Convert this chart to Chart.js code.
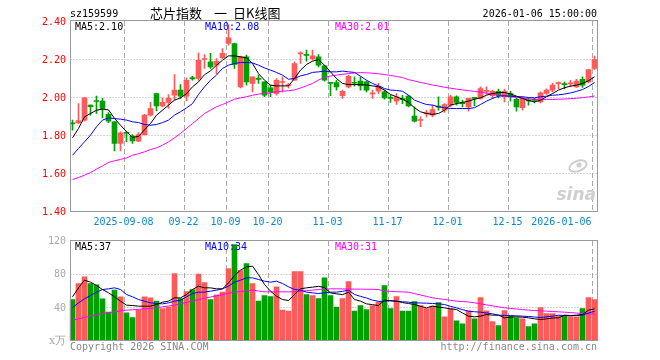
<!DOCTYPE html>
<html><head><meta charset="utf-8">
<script src="https://cdn.jsdelivr.net/npm/chart.js@4.4.1/dist/chart.umd.min.js"></script>
<style>
html,body{margin:0;padding:0;background:#fff;}
#wrap{position:relative;width:660px;height:360px;overflow:hidden;background:#fff;}
canvas{position:absolute;left:0;top:0;}
</style>
</head><body>
<div id="wrap"><canvas id="pc" width="660" height="360"></canvas><canvas id="vc" width="660" height="360"></canvas></div>
<script>
// ---------------- DATA ----------------
const dates = [
 '2025-08-26','2025-08-27','2025-08-28','2025-08-29',
 '2025-09-01','2025-09-02','2025-09-03','2025-09-04','2025-09-05',
 '2025-09-08','2025-09-09','2025-09-10','2025-09-11','2025-09-12',
 '2025-09-15','2025-09-16','2025-09-17','2025-09-18','2025-09-19',
 '2025-09-22','2025-09-23','2025-09-24','2025-09-25','2025-09-26',
 '2025-09-29','2025-09-30',
 '2025-10-09','2025-10-10',
 '2025-10-13','2025-10-14','2025-10-15','2025-10-16','2025-10-17',
 '2025-10-20','2025-10-21','2025-10-22','2025-10-23','2025-10-24',
 '2025-10-27','2025-10-28','2025-10-29','2025-10-30','2025-10-31',
 '2025-11-03','2025-11-04','2025-11-05','2025-11-06','2025-11-07',
 '2025-11-10','2025-11-11','2025-11-12','2025-11-13','2025-11-14',
 '2025-11-17','2025-11-18','2025-11-19','2025-11-20','2025-11-21',
 '2025-11-24','2025-11-25','2025-11-26','2025-11-27','2025-11-28',
 '2025-12-01','2025-12-02','2025-12-03','2025-12-04','2025-12-05',
 '2025-12-08','2025-12-09','2025-12-10','2025-12-11','2025-12-12',
 '2025-12-15','2025-12-16','2025-12-17','2025-12-18','2025-12-19',
 '2025-12-22','2025-12-23','2025-12-24','2025-12-25','2025-12-26',
 '2025-12-29','2025-12-30','2025-12-31',
 '2026-01-05','2026-01-06'
];
const opens = [1.865,1.868,1.881,1.960,1.982,1.981,1.912,1.872,1.758,1.815,
 1.797,1.770,1.805,1.907,2.021,1.956,1.974,2.012,2.039,2.007,
 2.105,2.100,2.200,2.188,2.170,2.209,2.284,2.284,2.056,2.214,
 2.074,2.098,2.082,2.051,2.021,2.079,2.063,2.091,2.230,2.225,
 2.205,2.214,2.167,2.075,2.079,2.009,2.056,2.079,2.086,2.082,
 2.019,2.033,2.030,1.996,1.981,1.991,2.007,1.902,1.879,1.914,
 1.907,1.952,1.933,1.960,2.004,1.969,1.951,1.996,1.995,2.032,
 2.009,2.033,2.004,2.021,1.991,1.946,1.984,1.988,1.977,2.021,
 2.039,2.073,2.069,2.072,2.056,2.095,2.082,2.153];
const highs = [1.881,1.968,2.000,1.962,2.007,1.995,1.921,1.875,1.819,1.823,
 1.805,1.816,1.912,1.974,2.023,1.998,2.016,2.121,2.068,2.104,
 2.112,2.235,2.226,2.232,2.205,2.258,2.381,2.286,2.218,2.223,
 2.109,2.118,2.082,2.065,2.100,2.109,2.074,2.188,2.240,2.249,
 2.249,2.226,2.170,2.076,2.091,2.039,2.118,2.109,2.109,2.086,
 2.039,2.074,2.039,2.012,2.021,2.012,2.012,1.951,1.898,1.933,
 1.960,2.004,1.968,2.012,2.009,1.986,1.995,1.997,2.056,2.056,
 2.039,2.044,2.044,2.033,1.995,2.004,2.000,1.995,2.030,2.046,
 2.074,2.082,2.082,2.091,2.095,2.109,2.147,2.218];
const lows = [1.828,1.862,1.876,1.907,1.916,1.893,1.868,1.719,1.719,1.767,
 1.758,1.767,1.802,1.902,1.930,1.951,1.942,1.986,1.995,1.982,
 2.091,2.091,2.153,2.153,2.126,2.205,2.275,2.153,2.051,2.065,
 2.030,2.074,2.004,2.004,2.012,2.030,2.050,2.091,2.179,2.191,
 2.196,2.161,2.086,2.009,2.039,1.995,2.051,2.060,2.039,2.030,
 1.995,2.021,1.991,1.974,1.963,1.968,1.951,1.872,1.846,1.898,
 1.898,1.933,1.921,1.951,1.960,1.951,1.928,1.956,1.991,2.016,
 1.995,1.998,1.977,1.981,1.928,1.933,1.960,1.972,1.972,2.016,
 2.030,2.047,2.047,2.056,2.053,2.053,2.077,2.147];
const closes = [1.861,1.878,1.998,1.952,1.979,1.942,1.875,1.758,1.814,1.812,
 1.772,1.805,1.907,1.942,1.956,1.974,1.995,2.039,2.007,2.091,
 2.098,2.196,2.202,2.161,2.191,2.232,2.314,2.174,2.214,2.082,
 2.109,2.095,2.012,2.030,2.091,2.082,2.065,2.179,2.232,2.222,
 2.219,2.170,2.091,2.074,2.056,2.033,2.112,2.075,2.061,2.039,
 2.021,2.060,1.998,1.995,2.004,1.989,1.956,1.875,1.881,1.916,
 1.937,1.949,1.963,2.004,1.974,1.968,1.995,1.995,2.047,2.033,
 2.033,2.009,2.033,2.004,1.951,1.995,1.982,1.985,2.025,2.039,
 2.065,2.074,2.068,2.074,2.086,2.065,2.147,2.200];
const ma5 = [1.788,1.837,1.898,1.916,1.933,1.939,1.935,1.890,1.854,1.820,
 1.790,1.795,1.830,1.863,1.907,1.933,1.960,1.986,1.998,2.020,
 2.056,2.082,2.120,2.140,2.170,2.196,2.219,2.219,2.214,2.209,
 2.179,2.126,2.091,2.065,2.061,2.061,2.061,2.100,2.144,2.174,
 2.191,2.200,2.170,2.135,2.100,2.074,2.068,2.068,2.068,2.066,
 2.061,2.056,2.039,2.016,2.004,1.991,1.974,1.946,1.925,1.916,
 1.911,1.916,1.933,1.960,1.968,1.974,1.981,1.991,1.998,2.012,
 2.021,2.026,2.026,2.019,2.007,1.995,1.984,1.977,1.986,2.004,
 2.021,2.039,2.051,2.060,2.065,2.074,2.088,2.109];
const ma10 = [1.696,1.732,1.767,1.802,1.846,1.881,1.893,1.889,1.886,1.881,
 1.872,1.868,1.858,1.854,1.858,1.868,1.881,1.907,1.925,1.945,
 1.968,2.016,2.056,2.091,2.118,2.153,2.170,2.179,2.184,2.184,
 2.182,2.170,2.156,2.144,2.132,2.118,2.096,2.100,2.114,2.121,
 2.132,2.135,2.139,2.135,2.135,2.139,2.135,2.132,2.112,2.091,
 2.074,2.061,2.047,2.039,2.037,2.033,2.012,1.986,1.974,1.963,
 1.960,1.951,1.946,1.942,1.942,1.942,1.942,1.946,1.963,1.981,
 1.995,2.007,2.009,2.007,2.004,2.004,2.000,1.998,2.004,2.007,
 2.012,2.014,2.018,2.024,2.032,2.042,2.058,2.079];
const ma30 = [1.568,1.579,1.591,1.605,1.623,1.640,1.658,1.667,1.674,1.682,
 1.696,1.704,1.714,1.726,1.735,1.749,1.767,1.788,1.811,1.837,
 1.863,1.889,1.916,1.933,1.951,1.963,1.977,1.991,1.998,2.004,
 2.012,2.018,2.021,2.025,2.030,2.033,2.036,2.040,2.050,2.062,
 2.074,2.092,2.105,2.113,2.118,2.122,2.126,2.129,2.131,2.130,
 2.128,2.125,2.121,2.116,2.111,2.105,2.094,2.087,2.079,2.073,
 2.066,2.060,2.054,2.049,2.044,2.040,2.036,2.032,2.028,2.023,
 2.018,2.013,2.008,2.004,2.000,1.996,1.993,1.991,1.990,1.990,
 1.990,1.991,1.992,1.994,1.996,1.999,2.003,2.008];
const volumes = [49.2,68.4,76.4,68.4,66.8,50.0,34.0,60.4,52.4,33.2,
 27.6,36.4,52.4,51.2,47.2,38.4,40.0,80.4,50.4,58.8,
 61.2,79.6,69.6,49.2,54.8,58.0,86.4,115.2,84.0,92.4,
 68.4,47.2,54.0,52.8,64.4,36.4,35.2,82.8,82.8,55.2,
 54.0,50.4,75.2,54.0,40.0,50.4,70.8,35.2,42.0,37.2,
 42.0,46.0,66.0,38.4,52.8,35.2,35.2,46.8,42.0,38.4,
 41.2,45.6,28.4,38.0,23.6,20.0,35.6,26.0,51.6,35.6,
 22.8,18.0,36.0,29.6,27.2,26.0,16.8,20.0,39.6,32.4,
 32.4,29.6,29.6,28.4,28.4,38.4,51.6,49.2];
const volMa5 = [52.4,63.2,72.4,70.0,66.0,61.2,57.2,52.4,47.2,42.4,
 42.0,41.2,41.2,41.2,43.2,46.0,47.2,51.2,51.2,55.2,
 61.2,65.2,63.2,63.2,62.0,62.0,69.2,78.0,84.4,88.4,
 89.2,79.2,67.2,59.2,53.2,49.2,48.0,55.2,62.0,63.2,
 64.0,65.0,63.5,57.2,56.0,55.0,58.0,49.2,47.2,44.0,
 43.0,42.0,48.4,47.5,47.2,45.5,44.4,43.2,41.0,39.2,
 41.2,40.0,39.2,38.0,37.2,33.0,29.2,28.4,29.2,31.2,
 30.4,30.4,27.2,28.0,28.4,28.0,27.2,26.0,25.2,26.0,
 27.0,27.2,30.4,30.0,30.4,31.2,36.4,38.0];
const volMa10 = [39.6,45.2,50.0,54.0,58.0,61.2,62.0,63.2,61.2,55.2,
 52.4,49.2,47.2,45.2,44.4,44.0,45.2,47.2,48.4,52.4,
 56.4,58.0,58.0,59.2,60.4,62.0,65.2,70.0,72.4,75.2,
 75.2,73.2,71.2,70.0,71.2,68.4,64.4,61.2,60.4,58.0,
 57.2,56.4,57.2,58.0,58.0,59.0,60.4,55.2,53.0,51.0,
 48.4,47.0,47.0,48.0,47.0,46.5,46.0,45.2,45.0,44.8,
 44.4,44.0,43.2,41.0,39.2,37.0,35.2,34.5,34.0,33.0,
 32.0,30.4,30.0,29.8,29.6,29.2,28.8,28.2,27.6,28.4,
 29.2,30.4,30.0,29.6,30.0,30.4,33.0,35.0];
const volMa30 = [24.4,26.0,27.6,29.2,30.8,32.4,33.4,34.4,35.4,36.4,
 36.9,37.4,37.9,38.4,39.4,40.4,41.4,42.4,44.1,45.8,
 47.5,49.2,50.7,52.2,53.6,55.1,56.6,58.0,58.8,59.6,
 60.4,59.4,58.4,58.4,58.4,58.4,58.4,58.4,59.1,59.8,
 60.5,61.2,61.6,62.0,62.0,61.9,61.8,61.7,61.6,61.5,
 61.4,61.2,59.2,58.9,58.6,58.3,58.0,56.3,54.6,52.9,
 51.2,50.2,49.2,48.2,47.2,46.7,46.2,45.2,44.0,42.8,
 41.6,40.4,39.2,38.5,37.8,37.1,36.4,36.0,35.6,35.2,
 34.8,34.4,34.0,33.5,33.0,32.4,32.0,31.5];
const priceTicks = [2.40, 2.20, 2.00, 1.80, 1.60, 1.40];
const volTicks = [120, 80, 40];
const xTickDates = ['2025-09-08','2025-09-22','2025-10-09','2025-10-20','2025-11-03','2025-11-17','2025-12-01','2025-12-15','2026-01-06'];
const xTickLabels = ['2025-09-08','09-22','10-09','10-20','11-03','11-17','12-01','12-15','2026-01-06'];
const symbol = 'sz159599';
const titleText = ['芯片指数','一','日K线图'];
const stamp = '2026-01-06 15:00:00';
const priceMaLabels = ['MA5:2.10','MA10:2.08','MA30:2.01'];
const volMaLabels = ['MA5:37','MA10:34','MA30:31'];

// ---------------- STYLE ----------------
const RED = '#ff5a5a', GREEN = '#00a000';
const MONO = '10px "DejaVu Sans Mono","Liberation Mono",monospace';
const GRID = '#aaaaaa', FRAME = '#999999';
const candleColors = closes.map((c,i) => c >= opens[i] ? RED : GREEN);
const wickData = lows.map((l,i) => [l, highs[i]]);
const bodyData = opens.map((o,i) => [o, closes[i]]);
const volData = volumes.slice();

function hLine(ctx, x0, x1, y, dash){
  ctx.save(); ctx.strokeStyle = GRID; ctx.lineWidth = 1; ctx.setLineDash(dash);
  ctx.beginPath(); ctx.moveTo(x0, y); ctx.lineTo(x1, y); ctx.stroke(); ctx.restore();
}
function vLine(ctx, x, y0, y1, dash){
  ctx.save(); ctx.strokeStyle = GRID; ctx.lineWidth = 1; ctx.setLineDash(dash);
  ctx.beginPath(); ctx.moveTo(x, y0); ctx.lineTo(x, y1); ctx.stroke(); ctx.restore();
}
function txt(ctx, s, x, y, color, align, font, base){
  ctx.save(); ctx.fillStyle = color; ctx.font = font || MONO; ctx.textAlign = align || 'left';
  ctx.textBaseline = base || 'alphabetic'; ctx.fillText(s, x, y); ctx.restore();
}

const pricePlugin = {
  id:'pricePlugin',
  beforeDatasetsDraw(chart){
    const {ctx, scales:{x, y}} = chart;
    const L = 70.5, R = 597.5;
    priceTicks.forEach(v => { if (v < 2.39 && v > 1.41) hLine(ctx, L, R, y.getPixelForValue(v), [1,2]); });
    xTickDates.forEach(d => { const px = x.getPixelForValue(dates.indexOf(d)) - 2; vLine(ctx, px, 21, 211, [5,3]); });
    // sina watermark
    ctx.save();
    ctx.strokeStyle = '#cfcfcf'; ctx.fillStyle = '#cfcfcf'; ctx.lineWidth = 2;
    ctx.beginPath(); ctx.ellipse(578, 166, 9, 5, -0.35, 0, Math.PI*2); ctx.stroke();
    ctx.beginPath(); ctx.arc(579, 165, 2.5, 0, Math.PI*2); ctx.fill();
    ctx.restore();
    txt(ctx, 'sina', 596, 200, '#d0d0d0', 'right', 'italic bold 17px "DejaVu Sans",sans-serif');
  },
  afterDatasetsDraw(chart){
    const {ctx, scales:{x, y}} = chart;
    ctx.save(); ctx.strokeStyle = FRAME; ctx.lineWidth = 1;
    ctx.strokeRect(70.5, 20.5, 527, 191); ctx.restore();
    priceTicks.forEach(v => txt(ctx, v.toFixed(2), 66, y.getPixelForValue(v) + 1, '#ff0000', 'right', MONO, 'middle'));
    xTickDates.forEach((d,i) => {
      const px = x.getPixelForValue(dates.indexOf(d)) - 3;
      const s = xTickLabels[i];
      ctx.save(); ctx.font = MONO; const w = ctx.measureText(s).width; ctx.restore();
      if (px + w/2 > 597) txt(ctx, s, px, 222, '#0a88cc', 'right', MONO, 'middle');
      else txt(ctx, s, px, 222, '#0a88cc', 'center', MONO, 'middle');
    });
    txt(ctx, symbol, 70, 17, '#000', 'left');
    const CJK = '13px "Noto Sans CJK SC","Noto Sans",sans-serif';
    txt(ctx, titleText[0], 150, 18, '#000', 'left', CJK);
    txt(ctx, titleText[1], 214, 18, '#000', 'left', CJK);
    txt(ctx, titleText[2], 233, 18, '#000', 'left', CJK);
    txt(ctx, stamp, 597, 16.5, '#000', 'right');
    txt(ctx, priceMaLabels[0], 75, 30, '#000');
    txt(ctx, priceMaLabels[1], 205, 30, '#0000ff');
    txt(ctx, priceMaLabels[2], 335, 30, '#ff00ff');
  }
};

const volPlugin = {
  id:'volPlugin',
  beforeDatasetsDraw(chart){
    const {ctx, scales:{x, y}} = chart;
    const L = 70.5, R = 597.5;
    [80, 40].forEach(v => hLine(ctx, L, R, Math.round(y.getPixelForValue(v)) + 0.5, [1,2]));
    xTickDates.forEach(d => { const px = x.getPixelForValue(dates.indexOf(d)) - 2; vLine(ctx, px, 241, 340, [5,3]); });
  },
  afterDatasetsDraw(chart){
    const {ctx, scales:{x, y}} = chart;
    ctx.save(); ctx.strokeStyle = FRAME; ctx.lineWidth = 1;
    ctx.strokeRect(70.5, 240.5, 527, 100); ctx.restore();
    volTicks.forEach(v => txt(ctx, String(v), 66, y.getPixelForValue(v) + 1, '#aaaaaa', 'right', MONO, 'middle'));
    txt(ctx, 'x万', 49, 344, '#aaaaaa', 'left', '11px "DejaVu Serif",serif');
    txt(ctx, volMaLabels[0], 75, 250, '#000');
    txt(ctx, volMaLabels[1], 205, 250, '#0000ff');
    txt(ctx, volMaLabels[2], 335, 250, '#ff00ff');
    txt(ctx, 'Copyright 2026 SINA.COM', 70, 350, '#888888', 'left');
    txt(ctx, 'http://finance.sina.com.cn', 597, 350, '#888888', 'right');
  }
};

const lineDS = (data, color, order) => ({type:'line', data, borderColor:color, borderWidth:1, pointRadius:0, tension:0, fill:false, order});

Chart.defaults.animation = false;

new Chart(document.getElementById('pc'), {
  data: {
    labels: dates,
    datasets: [
      {type:'bar', data: wickData, backgroundColor: candleColors, barThickness:1, grouped:false, order:5},
      {type:'bar', data: bodyData, backgroundColor: candleColors, barThickness:5, minBarLength:1, grouped:false, order:4},
      lineDS(ma30, '#ff00ff', 3),
      lineDS(ma10, '#0000ff', 2),
      lineDS(ma5, '#000000', 1)
    ]
  },
  options: {
    responsive:false, animation:false, devicePixelRatio:1,
    layout:{padding:{left:69.5, right:62.5, top:21.5, bottom:148.5}},
    scales:{
      x:{type:'category', offset:true, display:false},
      y:{type:'linear', min:1.4, max:2.4, display:false}
    },
    plugins:{legend:{display:false}, tooltip:{enabled:false}}
  },
  plugins:[pricePlugin]
});

new Chart(document.getElementById('vc'), {
  data: {
    labels: dates,
    datasets: [
      {type:'bar', data: volData, backgroundColor: candleColors, barThickness:5, grouped:false, order:4},
      lineDS(volMa30, '#ff00ff', 3),
      lineDS(volMa10, '#0000ff', 2),
      lineDS(volMa5, '#000000', 1)
    ]
  },
  options: {
    responsive:false, animation:false, devicePixelRatio:1,
    layout:{padding:{left:69.5, right:62.5, top:240.5, bottom:19.5}},
    scales:{
      x:{type:'category', offset:true, display:false},
      y:{type:'linear', min:0, max:120, display:false}
    },
    plugins:{legend:{display:false}, tooltip:{enabled:false}}
  },
  plugins:[volPlugin]
});
</script>
</body></html>
